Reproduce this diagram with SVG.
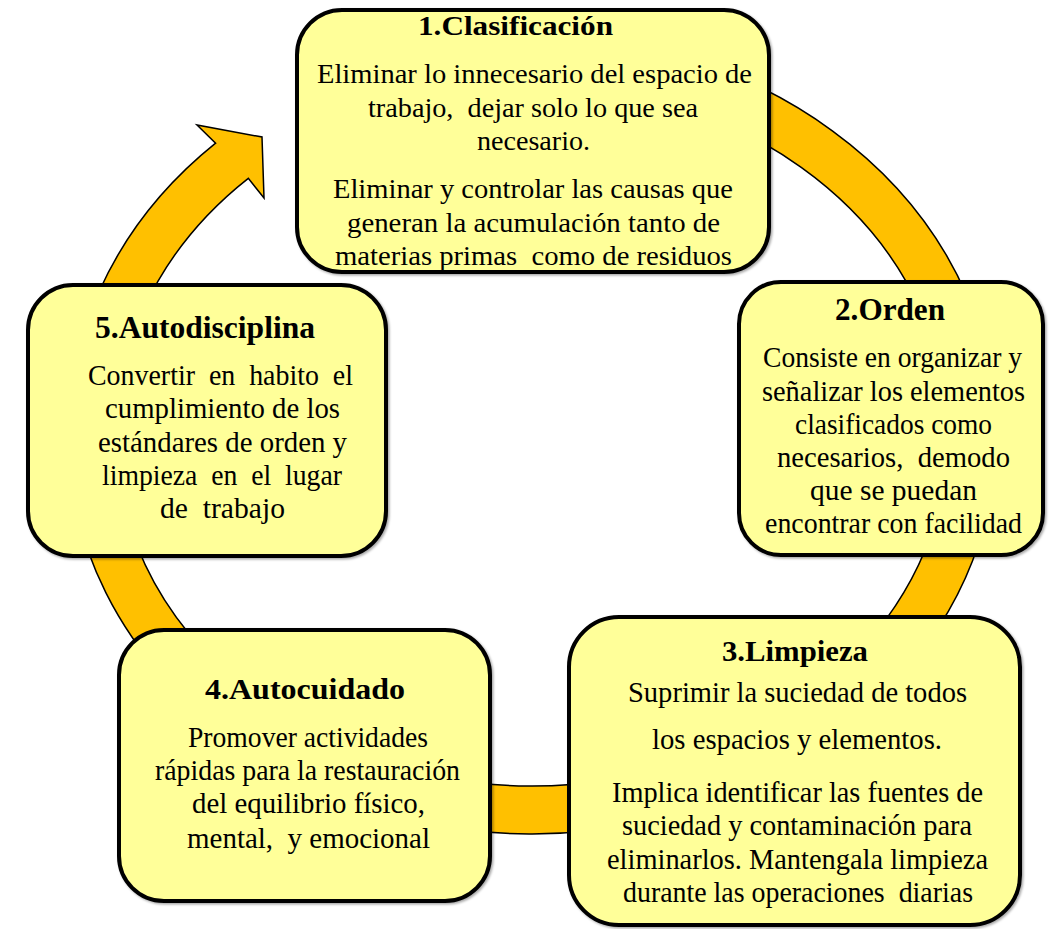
<svg xmlns="http://www.w3.org/2000/svg" width="1051" height="929" viewBox="0 0 1051 929">
<defs>
<style>
.box{fill:#FFFF99;stroke:#000;stroke-width:4;filter:url(#sh)}
.t{font-family:"Liberation Serif","DejaVu Serif",serif;font-weight:bold;fill:#000;text-anchor:middle}
.b{font-family:"Liberation Serif","DejaVu Serif",serif;fill:#000;text-anchor:middle;white-space:pre}
#node1 .t{font-size:28px} #node1 .b{font-size:27px}
#node2 .t{font-size:31px} #node2 .b{font-size:29px}
#node3 .t{font-size:30px} #node3 .b{font-size:29px}
#node4 .t{font-size:30px} #node4 .b{font-size:29px}
#node5 .t{font-size:31px} #node5 .b{font-size:29px}
.ring{fill:#FFC000;stroke:#000;stroke-width:1.5;stroke-linejoin:miter}
</style>
<filter id="sh" x="-5%" y="-5%" width="110%" height="110%">
<feDropShadow dx="1.5" dy="1.5" stdDeviation="1.2" flood-color="#000" flood-opacity="0.35"/>
</filter>
</defs>
<rect width="1051" height="929" fill="#fff"/>
<g id="connectors">
<path class="ring" d="M 411.9 49.6 A 464 399 0 1 1 215.6 143.2 L 197 125 L 262 137 L 264 198 L 248.3 178.3 A 416 351 0 1 0 424.3 96 Z"/>
</g>
<g id="node1">
<rect class="box" x="297" y="10" width="472" height="262" rx="45"/>
<text class="t" x="515.5" y="35" textLength="195" lengthAdjust="spacingAndGlyphs">1.Clasificación</text>
<text class="b" x="534.5" y="83" textLength="435" lengthAdjust="spacingAndGlyphs">Eliminar lo innecesario del espacio de</text>
<text class="b" x="533" y="117" textLength="330" lengthAdjust="spacingAndGlyphs">trabajo,  dejar solo lo que sea</text>
<text class="b" x="533.5" y="150" textLength="113" lengthAdjust="spacingAndGlyphs">necesario.</text>
<text class="b" x="533" y="198" textLength="400" lengthAdjust="spacingAndGlyphs">Eliminar y controlar las causas que</text>
<text class="b" x="533.5" y="232" textLength="373" lengthAdjust="spacingAndGlyphs">generan la acumulación tanto de</text>
<text class="b" x="533.5" y="265" textLength="397" lengthAdjust="spacingAndGlyphs">materias primas  como de residuos</text>
</g>
<g id="node2">
<rect class="box" x="739" y="282" width="304" height="273" rx="42"/>
<text class="t" x="890" y="320" textLength="110" lengthAdjust="spacingAndGlyphs">2.Orden</text>
<text class="b" x="892.5" y="367" textLength="259" lengthAdjust="spacingAndGlyphs">Consiste en organizar y</text>
<text class="b" x="893.5" y="401" textLength="263" lengthAdjust="spacingAndGlyphs">señalizar los elementos</text>
<text class="b" x="893.5" y="434" textLength="197" lengthAdjust="spacingAndGlyphs">clasificados como</text>
<text class="b" x="893.5" y="467" textLength="233" lengthAdjust="spacingAndGlyphs">necesarios,  demodo</text>
<text class="b" x="893.5" y="500" textLength="167" lengthAdjust="spacingAndGlyphs">que se puedan</text>
<text class="b" x="893.5" y="533" textLength="257" lengthAdjust="spacingAndGlyphs">encontrar con facilidad</text>
</g>
<g id="node5">
<rect class="box" x="28" y="285" width="358" height="271" rx="45"/>
<text class="t" x="205" y="338" textLength="220" lengthAdjust="spacingAndGlyphs">5.Autodisciplina</text>
<text class="b" x="220.5" y="385" textLength="265" lengthAdjust="spacingAndGlyphs">Convertir  en  habito  el</text>
<text class="b" x="222.5" y="418" textLength="235" lengthAdjust="spacingAndGlyphs">cumplimiento de los</text>
<text class="b" x="222.5" y="452" textLength="249" lengthAdjust="spacingAndGlyphs">estándares de orden y</text>
<text class="b" x="222" y="485" textLength="240" lengthAdjust="spacingAndGlyphs">limpieza  en  el  lugar</text>
<text class="b" x="222.5" y="518" textLength="125" lengthAdjust="spacingAndGlyphs">de  trabajo</text>
</g>
<g id="node4">
<rect class="box" x="119" y="630" width="371" height="271" rx="45"/>
<text class="t" x="305" y="699" textLength="200" lengthAdjust="spacingAndGlyphs">4.Autocuidado</text>
<text class="b" x="308" y="747" textLength="240" lengthAdjust="spacingAndGlyphs">Promover actividades</text>
<text class="b" x="307.5" y="780" textLength="305" lengthAdjust="spacingAndGlyphs">rápidas para la restauración</text>
<text class="b" x="308.5" y="813" textLength="233" lengthAdjust="spacingAndGlyphs">del equilibrio físico,</text>
<text class="b" x="308.5" y="848" textLength="243" lengthAdjust="spacingAndGlyphs">mental,  y emocional</text>
</g>
<g id="node3">
<rect class="box" x="569" y="617" width="451" height="308" rx="50"/>
<text class="t" x="795" y="661" textLength="146" lengthAdjust="spacingAndGlyphs">3.Limpieza</text>
<text class="b" x="797.5" y="702" textLength="339" lengthAdjust="spacingAndGlyphs">Suprimir la suciedad de todos</text>
<text class="b" x="797" y="749" textLength="290" lengthAdjust="spacingAndGlyphs">los espacios y elementos.</text>
<text class="b" x="797.5" y="802" textLength="371" lengthAdjust="spacingAndGlyphs">Implica identificar las fuentes de</text>
<text class="b" x="797" y="835" textLength="350" lengthAdjust="spacingAndGlyphs">suciedad y contaminación para</text>
<text class="b" x="797.5" y="869" textLength="381" lengthAdjust="spacingAndGlyphs">eliminarlos. Mantengala limpieza</text>
<text class="b" x="798" y="902" textLength="350" lengthAdjust="spacingAndGlyphs">durante las operaciones  diarias</text>
</g>
</svg>
